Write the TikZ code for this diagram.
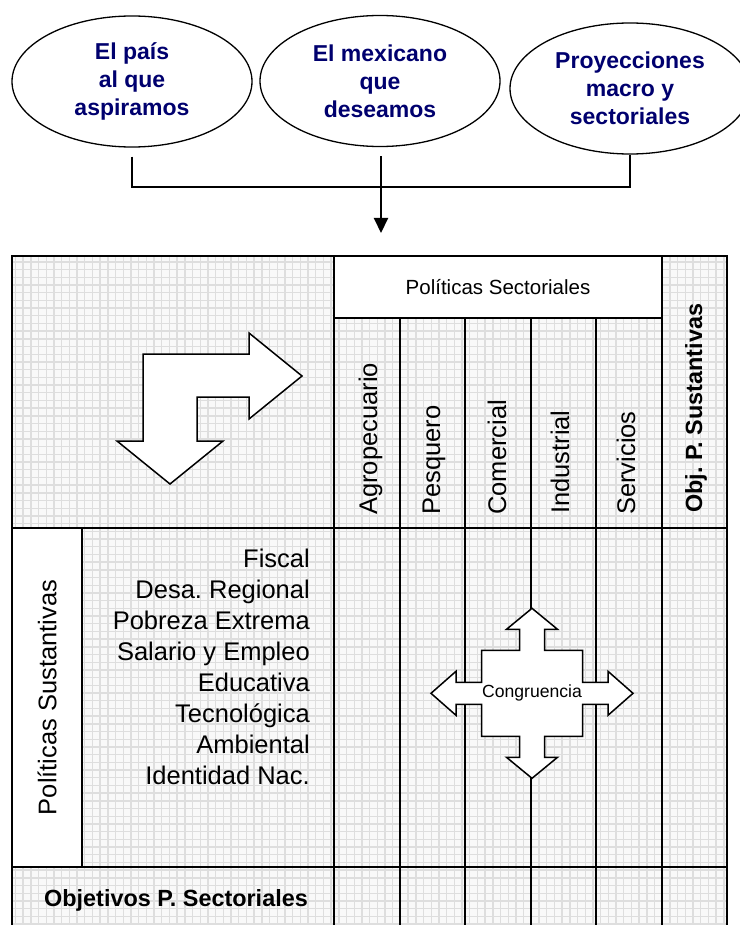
\documentclass[tikz,border=0pt]{standalone}
\usepackage{fontspec}
\setmainfont{Liberation Sans}
\usetikzlibrary{shapes.geometric,arrows.meta}
\definecolor{navy}{RGB}{0,0,110}
\frenchspacing
\begin{document}
\begin{tikzpicture}[x=1pt,y=-1pt,
  ell/.style={ellipse, draw, line width=1.3pt, minimum width=240pt, minimum height=131pt, inner sep=0pt, align=center, text=navy, font=\fontsize{23}{28}\selectfont\bfseries},
  conn/.style={line width=2pt},
  frameline/.style={line width=2.2pt},
  cell/.style={line width=1.6pt},
  gridbg/.style={fill=gray!5},
  gridln/.style={draw=gray!26, line width=1.4pt},
  txt/.style={font=\fontsize{25.5}{31}\selectfont, inner sep=0pt},
  btxt/.style={font=\fontsize{23.4}{28}\selectfont\bfseries, inner sep=0pt},
  shapearrow/.style={draw, fill=white, line width=1.5pt, line join=miter}]
\useasboundingbox (0,0) rectangle (739,925);

% ---- top ellipses ----
\node[ell] (e1) at (132,81.5) {El país\\al que\\aspiramos};
\node[ell] (e2) at (380,81) {El mexicano\\que\\deseamos};
\node[ell] (e3) at (630,88.5) {Proyecciones\\macro y\\sectoriales};

\coordinate (j1) at (132,187);
\coordinate (j3) at (630,187);
\coordinate (tgt) at (381,233);
\draw[conn] ([yshift=-9pt]e1.south) -- (j1) -- (j3) -- (e3.south);
\draw[conn,-{Triangle[width=14pt,length=15pt]}] ([xshift=1pt,yshift=-9pt]e2.south) -- (tgt);

% ---- grid background ----
\fill[gridbg] (12,256) rectangle (727,930);
\draw[gridln, step=7.7pt] (12,256) grid (727,930);

% ---- table rules ----
\draw[cell] (12,528) -- (727,528);
\draw[cell] (12,867) -- (727,867);
\draw[cell] (334,256) -- (334,930);
\foreach \x in {400,465,531,596} \draw[cell] (\x,318) -- (\x,930);
\draw[cell] (662,256) -- (662,930);
\draw[frameline] (12,930) -- (12,256) -- (727,256) -- (727,930);

% ---- white boxes ----
\node[draw, cell, fill=white, minimum width=328pt, minimum height=62pt, inner sep=0pt,
      font=\fontsize{20.5}{24}\selectfont] (hdr) at (498,287) {Políticas Sectoriales};
\node[draw, cell, fill=white, rotate=90, minimum width=339pt, minimum height=70pt, inner sep=0pt,
      font=\fontsize{25.5}{31}\selectfont] (ps) at (47,697.5) {Políticas Sustantivas};

% ---- column labels ----
\node[txt, rotate=90, anchor=base west] (c1) at (377,515) {Agropecuario};
\node[txt, rotate=90, anchor=base west] (c2) at (440,515) {Pesquero};
\node[txt, rotate=90, anchor=base west] (c3) at (506,515) {Comercial};
\node[txt, rotate=90, anchor=base west] (c4) at (569,514) {Industrial};
\node[txt, rotate=90, anchor=base west] (c5) at (635,515) {Servicios};
\node[btxt, rotate=90, anchor=base west] (c6) at (702,513) {Obj. P. Sustantivas};

% ---- row labels ----
\foreach \t [count=\i] in {Fiscal,Desa. Regional,Pobreza Extrema,Salario y Empleo,Educativa,Tecnológica,Ambiental,Identidad Nac.}
  \node[txt, anchor=base east] (r\i) at (310,{567+31*(\i-1)}) {\t};

\node[btxt, anchor=base east] (obs) at (308,906) {Objetivos P. Sectoriales};

% ---- bent arrow ----
\draw[shapearrow] (143,354) -- (249,354) -- (249,333) -- (302,376) -- (249,419) -- (249,397)
  -- (197,397) -- (197,441) -- (223,441) -- (170,484) -- (117,441) -- (143,441) -- cycle;

% ---- congruence cross arrow ----
\begin{scope}[shift={(532,693.3)}]
\draw[shapearrow] (0,-85) -- (25.5,-64) -- (12.5,-64) -- (12.5,-43) -- (50.5,-43) -- (50.5,-11)
  -- (76,-11) -- (76,-22) -- (101,0) -- (76,22) -- (76,11) -- (50.5,11) -- (50.5,43)
  -- (12.5,43) -- (12.5,64) -- (25.5,64) -- (0,85) -- (-25.5,64) -- (-12.5,64) -- (-12.5,43)
  -- (-50.5,43) -- (-50.5,11) -- (-76,11) -- (-76,22) -- (-101,0) -- (-76,-22) -- (-76,-11)
  -- (-50.5,-11) -- (-50.5,-43) -- (-12.5,-43) -- (-12.5,-64) -- (-25.5,-64) -- cycle;
\end{scope}
\node[font=\fontsize{17.6}{20}\selectfont, inner sep=0pt] (cong) at (532,693.3) {Congruencia};
\end{tikzpicture}
\end{document}
